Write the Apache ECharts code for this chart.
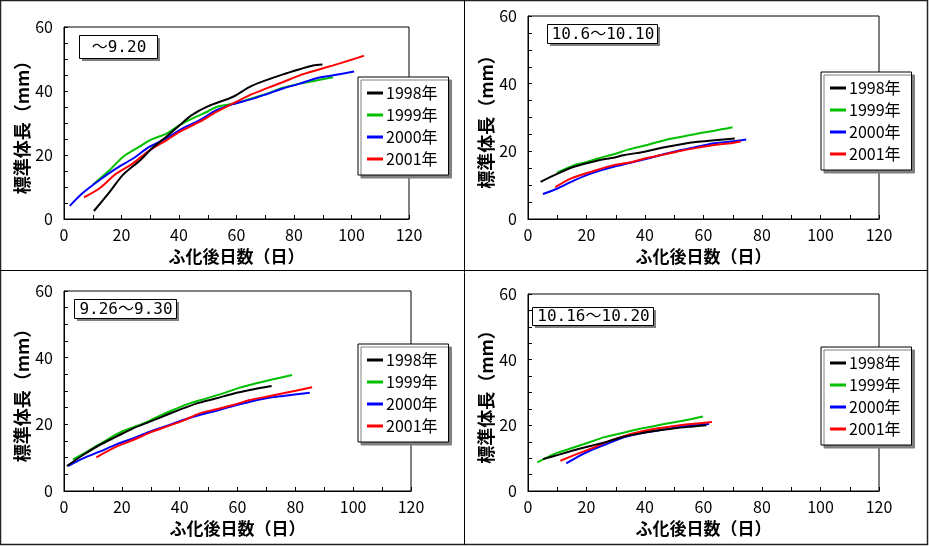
<!DOCTYPE html>
<html><head><meta charset="utf-8">
<script src="https://cdn.jsdelivr.net/npm/echarts@6/dist/echarts.min.js"></script>
<style>html,body{margin:0;padding:0;background:#fff}#c{width:929px;height:546px}</style>
</head><body><div id="c"></div>
<script>
// Legend / year names
var years = ['1998年', '1999年', '2000年', '2001年'];
// Panel titles
var panelTitles = ['～9.20', '10.6～10.10', '9.26～9.30', '10.16～10.20'];
// Axis tick labels
var xTicks = [0, 20, 40, 60, 80, 100, 120];
var yTicks = [0, 20, 40, 60];

// Panel 1 (～9.20): [days after hatching, standard length mm]
var p1_1998 = [[10.4,2.5],[15.9,8.5],[20.5,13.8],[26.3,18.2],[31,22.4],[35.6,25.7],[40.2,29.3],[44.3,32.4],[50,35.2],[58.8,38.2],[64.6,41.3],[70.4,43.4],[76.2,45.2],[82,46.8],[86.6,48],[89.9,48.3]];
var p1_1999 = [[10.1,10.8],[15.9,15.3],[20.5,19.4],[26.3,22.6],[29.8,24.6],[35.6,26.7],[40.2,29.3],[44.9,31.5],[50,33.6],[53,35],[58.8,36],[64.6,37.5],[70.4,39.1],[76.2,41],[82,42.3],[87.8,43.3],[93.6,44.3]];
var p1_2000 = [[2,4.1],[6.6,8.2],[12.4,12.2],[18.2,15.8],[24,18.9],[29.8,22.6],[35.6,25.2],[40.2,27.8],[47.2,30.9],[53,34],[58.8,35.9],[64.6,37.3],[70.4,39],[76.2,40.8],[82,42.3],[87.8,44],[93.6,44.9],[100.9,46.1]];
var p1_2001 = [[7,6.8],[12.4,9.6],[18.2,14.2],[24,17.4],[29.8,21.5],[35.6,24.6],[40.2,27.2],[47.2,30.4],[53,33.5],[58.8,36.1],[64.6,38.7],[70.4,40.8],[76.2,42.8],[82,44.9],[87.8,46.5],[93.6,48],[99.4,49.6],[104.3,51]];

// Panel 2 (10.6～10.10)
var p2_1998 = [[4.3,11],[10.3,13.5],[16,15.5],[23.9,17.3],[28.5,18],[33,18.9],[39.9,19.9],[46.7,21.2],[52.4,22.1],[58.1,22.8],[63.8,23.3],[70.7,23.8]];
var p2_1999 = [[9.9,13.7],[16,16],[19.4,16.7],[23.9,17.9],[29.6,19.2],[34.2,20.5],[39.9,21.7],[46.7,23.3],[52.4,24.3],[58.1,25.3],[63.8,26.1],[69.9,27.1]];
var p2_2000 = [[5.1,7.4],[10.3,9.1],[16,11.5],[21.7,13.5],[29.6,15.5],[35.3,16.7],[41,17.9],[46.7,19.2],[52.4,20.4],[58.1,21.4],[63.8,22.4],[69.5,22.9],[74.6,23.5]];
var p2_2001 = [[9.3,9.4],[14.8,12],[21.7,14],[29.6,16],[35.3,16.8],[41,18.1],[46.7,19.1],[52.4,20.2],[58.1,21.1],[63.8,21.9],[69.5,22.4],[72.7,22.9]];

// Panel 3 (9.26～9.30)
var p3_1998 = [[1,7.5],[6.6,10.8],[12.3,13.8],[18.1,16.3],[23.9,18.8],[29.7,20.8],[35.4,22.8],[41.2,24.8],[46.9,26.5],[52.7,27.8],[58.5,29.2],[64.3,30.3],[71.8,31.5]];
var p3_1999 = [[3.1,9.5],[8.9,12.3],[14.7,15.3],[20.4,18],[26.2,19.8],[32,22.1],[37.7,24.3],[43.5,26.3],[49.3,27.8],[55,29.3],[60.8,31],[66.6,32.3],[72.3,33.5],[78.9,34.8]];
var p3_2000 = [[1.4,7.5],[6.6,9.8],[12.3,11.8],[18.1,14],[23.9,15.8],[29.7,17.8],[35.4,19.5],[41.2,21.3],[46.9,22.8],[52.7,24.1],[58.5,25.5],[64.3,26.8],[70,27.8],[75.8,28.5],[85,29.5]];
var p3_2001 = [[11.2,10.1],[18.1,13.3],[23.9,15.3],[29.7,17.5],[35.4,19.3],[41.2,21.1],[46.9,23.3],[52.7,24.5],[58.5,25.8],[64.3,27.3],[70,28.3],[75.8,29.3],[85.8,31.1]];

// Panel 4 (10.16～10.20)
var p4_1998 = [[5.1,9.7],[10.3,11],[16,12.5],[21.7,13.8],[27.4,15.1],[33,16.6],[38.7,17.6],[44.4,18.4],[50.1,19.1],[55.8,19.6],[61,20]];
var p4_1999 = [[3.2,8.7],[9.1,11.3],[14.8,13],[20.5,14.7],[26.2,16.4],[31.9,17.6],[37.6,18.8],[43.3,19.8],[49,20.8],[54.7,21.7],[59.8,22.7]];
var p4_2000 = [[13.1,8.4],[17.1,10.5],[21.7,12.5],[27.4,14.5],[33,16.4],[38.7,17.6],[44.4,18.4],[50.1,19.3],[55.8,19.9],[61.9,20.4]];
var p4_2001 = [[11.1,9.2],[16,11],[21.7,13],[27.4,15.1],[33,16.8],[38.7,18.1],[44.4,19.1],[50.1,19.8],[55.8,20.4],[62.9,21]];

var panels = [
  [p1_1998, p1_1999, p1_2000, p1_2001],
  [p2_1998, p2_1999, p2_2000, p2_2001],
  [p3_1998, p3_1999, p3_2000, p3_2001],
  [p4_1998, p4_1999, p4_2000, p4_2001]
];
var colors = ['#000000', '#00c000', '#0000ff', '#ff0000'];

// layout (pixels)
var grids = [
  {left: 64, top: 27, width: 345, height: 192},
  {left: 528, top: 16, width: 351, height: 203},
  {left: 64, top: 291, width: 347, height: 200},
  {left: 528, top: 294, width: 351, height: 197}
];
var titleBox = [
  {x: 79, y: 35, w: 78, h: 23},
  {x: 547, y: 24, w: 110, h: 19},
  {x: 74, y: 299, w: 102, h: 19},
  {x: 532, y: 307, w: 121, h: 18}
];
var legendPos = [
  {left: 358, top: 77},
  {left: 821, top: 72},
  {left: 358, top: 344},
  {left: 821, top: 347}
];

var fontJP = '"Noto Sans CJK JP", "Noto Sans", sans-serif';
var graphics = [
  {type: 'rect', shape: {x: 0.5, y: 0.5, width: 927, height: 544}, style: {fill: 'none', stroke: '#222', lineWidth: 1.5}, silent: true},
  {type: 'line', shape: {x1: 464.5, y1: 0, x2: 464.5, y2: 545}, style: {stroke: '#000', lineWidth: 1}, silent: true},
  {type: 'line', shape: {x1: 0, y1: 270.5, x2: 928, y2: 270.5}, style: {stroke: '#000', lineWidth: 1}, silent: true}
];
titleBox.forEach(function (b) {
  graphics.push({type: 'rect', z: 10, silent: true, shape: {x: b.x + 3, y: b.y + 3, width: b.w, height: b.h}, style: {fill: '#808080'}});
  graphics.push({type: 'rect', z: 11, silent: true, shape: {x: b.x + 0.5, y: b.y + 0.5, width: b.w, height: b.h}, style: {fill: '#fff', stroke: '#000', lineWidth: 1}});
});

var option = {
  animation: false,
  backgroundColor: '#fff',
  grid: grids.map(function (g) {
    return Object.assign({show: true, borderColor: '#000', borderWidth: 1, backgroundColor: 'transparent'}, g);
  }),
  title: panelTitles.map(function (t, i) {
    var b = titleBox[i];
    return {
      text: t, left: b.x + b.w / 2 + 1, top: b.y + b.h / 2 + 1, textAlign: 'center', textVerticalAlign: 'middle',
      padding: 0, z: 20,
      textStyle: {fontFamily: '"DejaVu Sans Mono", "Noto Sans CJK JP", monospace', fontSize: 16, fontWeight: 'normal', color: '#000'}
    };
  }),
  legend: legendPos.map(function (p) {
    return {
      left: p.left, top: p.top, orient: 'vertical', data: years,
      icon: 'rect', itemWidth: 16, itemHeight: 3, itemGap: 4,
      padding: [7, 11, 7, 9],
      backgroundColor: '#fff', borderColor: '#000', borderWidth: 1,
      shadowColor: '#808080', shadowOffsetX: 3, shadowOffsetY: 3, shadowBlur: 0,
      selectedMode: false,
      textStyle: {fontFamily: fontJP, fontSize: 16, color: '#000', lineHeight: 18, padding: [0, 0, 0, -2]}
    };
  }),
  xAxis: grids.map(function (g, i) {
    return {
      gridIndex: i, type: 'value', min: xTicks[0], max: xTicks[xTicks.length - 1], interval: 20,
      name: 'ふ化後日数（日）', nameLocation: 'middle', nameGap: 29,
      nameTextStyle: {fontFamily: fontJP, fontSize: 17, fontWeight: 'bold', color: '#000'},
      axisLine: {lineStyle: {color: '#000', width: 1}},
      axisTick: {show: true, inside: true, length: 4, lineStyle: {color: '#000'}},
      minorTick: {show: true, splitNumber: 2, length: 4, lineStyle: {color: '#000'}},
      splitLine: {show: false},
      axisLabel: {margin: 8, fontFamily: fontJP, fontSize: 16, color: '#000'}
    };
  }),
  yAxis: grids.map(function (g, i) {
    return {
      gridIndex: i, type: 'value', min: yTicks[0], max: yTicks[yTicks.length - 1], interval: 20,
      name: '標準体長（mm）', nameLocation: 'middle', nameGap: 33, nameRotate: 90,
      nameTextStyle: {fontFamily: fontJP, fontSize: 18, fontWeight: 'bold', color: '#000'},
      axisLine: {lineStyle: {color: '#000', width: 1}},
      axisTick: {show: true, inside: true, length: 4, lineStyle: {color: '#000'}},
      minorTick: {show: true, splitNumber: 4, length: 4, lineStyle: {color: '#000'}},
      splitLine: {show: false},
      axisLabel: {margin: 11, fontFamily: fontJP, fontSize: 16, color: '#000'}
    };
  }),
  graphic: graphics,
  series: []
};
panels.forEach(function (panel, pi) {
  panel.forEach(function (data, si) {
    option.series.push({
      type: 'line', name: years[si], xAxisIndex: pi, yAxisIndex: pi,
      data: data, showSymbol: false, smooth: 0.3,
      lineStyle: {color: colors[si], width: 2}, itemStyle: {color: colors[si]},
      z: si === 0 ? 5 : 3
    });
  });
});
var chart = echarts.init(document.getElementById('c'), null, {renderer: 'canvas'});
chart.setOption(option);
</script>
</body></html>
